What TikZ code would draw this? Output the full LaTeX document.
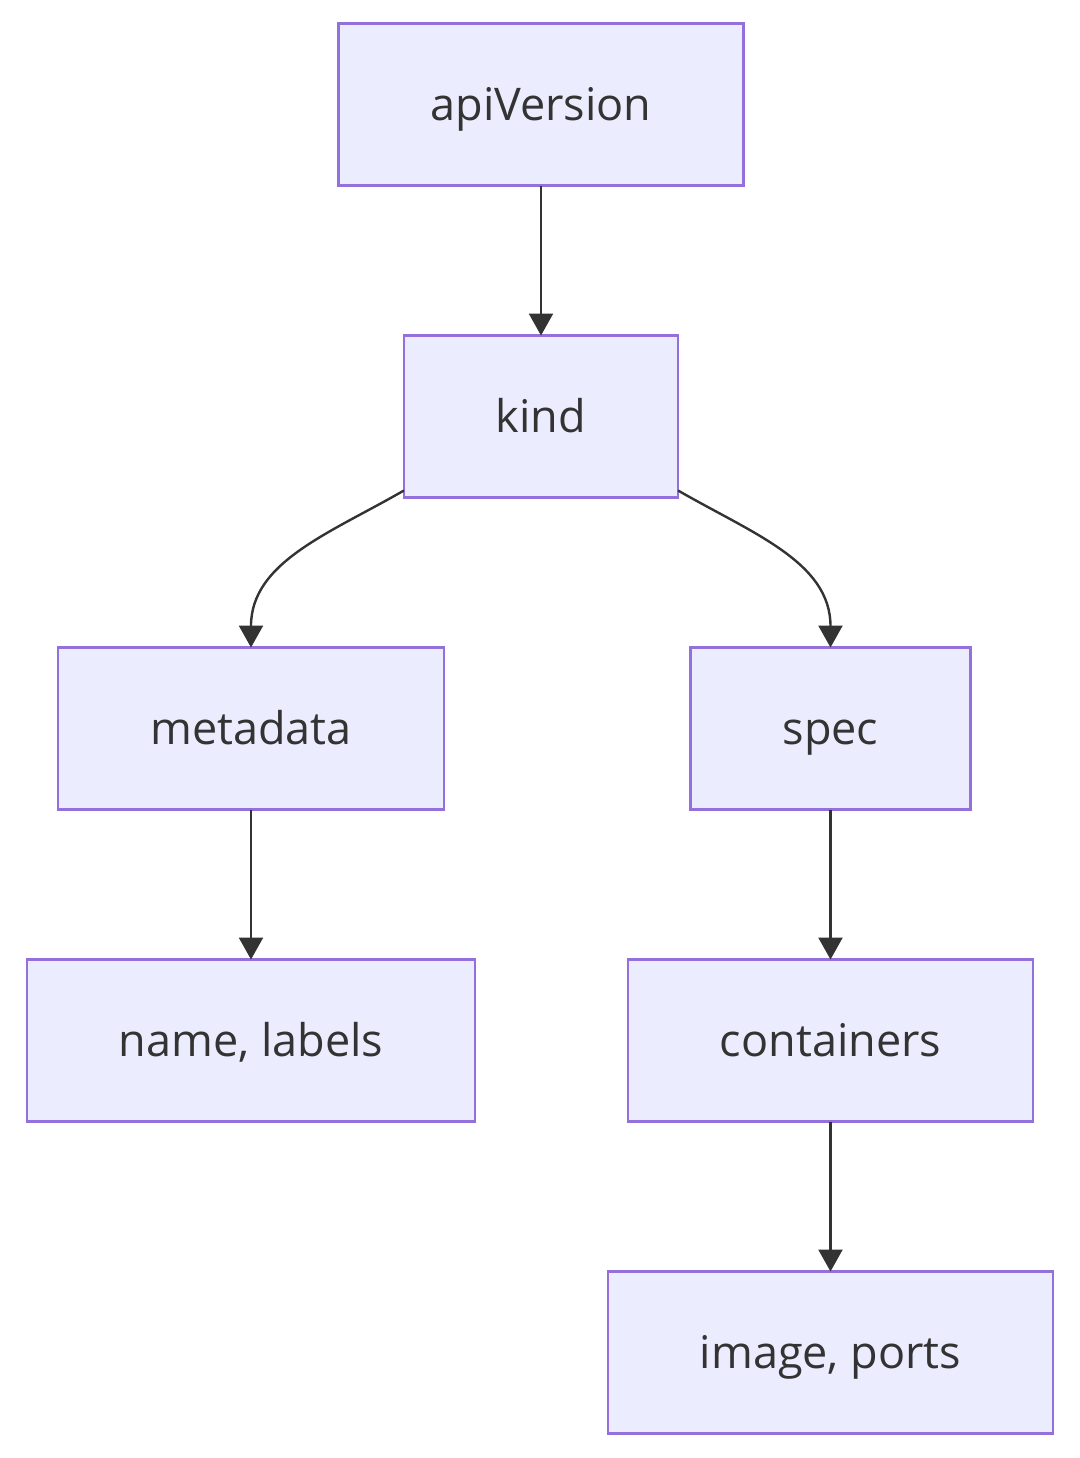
\documentclass[tikz,border=0pt]{standalone}
\usepackage{fontspec}
\setmainfont{Open Sans}
\usetikzlibrary{arrows.meta,positioning}

\definecolor{boxfill}{HTML}{ECECFF}
\definecolor{boxline}{HTML}{9370DB}
\definecolor{ink}{HTML}{333333}

\begin{document}
\begin{tikzpicture}[
    % --- Node styles ---
    field/.style={draw=boxline, fill=boxfill, line width=1.2pt, outer sep=0pt,
                  minimum height=81pt, inner xsep=46pt, inner ysep=0pt,
                  text height=17pt, text depth=1.5pt,
                  text=ink, font=\fontsize{22.5}{27}\selectfont},
    % --- Edge styles ---
    link/.style={draw=ink, line width=1.2pt, -{Triangle[length=11pt, width=12pt]}},
    node distance=75pt,
]

% === Fields ===
\node[field] (api) at (0,0) {apiVersion};
\node[field, below=of api] (kind) {kind};
\node[field, below=of kind, xshift=-145pt] (meta) {metadata};
\node[field, below=of kind, xshift=144.75pt] (spec) {spec};
\node[field, below=of meta] (names) {name,\ labels};
\node[field, below=of spec] (cont) {containers};
\node[field, below=of cont] (img) {image,\ ports};

% === Edges ===
\draw[link] (api) -- (kind);
\draw[link] ([yshift=3.5pt]kind.south west) to[out=210, in=90] (meta.north);
\draw[link] ([yshift=3.5pt]kind.south east) to[out=-30, in=90] (spec.north);
\draw[link] (meta) -- (names);
\draw[link] (spec) -- (cont);
\draw[link] (cont) -- (img);

\useasboundingbox (-270.5pt,52.25pt) rectangle (269.5pt,-676.75pt);

\end{tikzpicture}
\end{document}
